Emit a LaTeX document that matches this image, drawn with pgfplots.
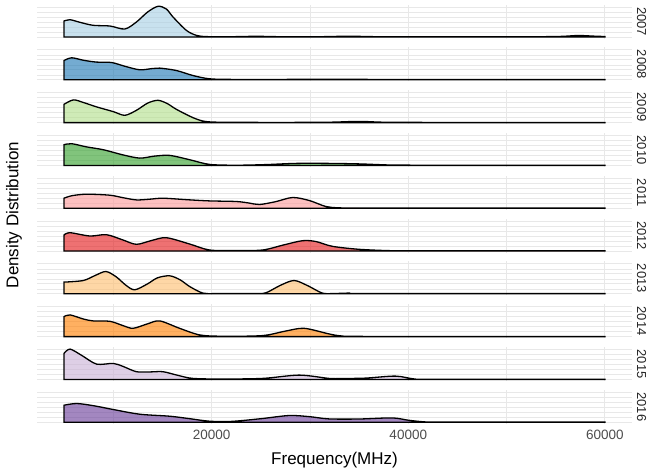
\documentclass[border=0pt]{standalone}
\usepackage{pgfplots}
\pgfplotsset{compat=1.18}
\usepackage{fontspec}
\setmainfont{Liberation Sans}
\definecolor{gridc}{HTML}{E8E8E8}
\definecolor{c1}{HTML}{A6CEE3}
\definecolor{c2}{HTML}{1F78B4}
\definecolor{c3}{HTML}{B2DF8A}
\definecolor{c4}{HTML}{33A02C}
\definecolor{c5}{HTML}{FB9A99}
\definecolor{c6}{HTML}{E31A1C}
\definecolor{c7}{HTML}{FDBF6F}
\definecolor{c8}{HTML}{FF7F00}
\definecolor{c9}{HTML}{CAB2D6}
\definecolor{c10}{HTML}{6A3D9A}
\definecolor{tickc}{HTML}{4D4D4D}
\pgfplotsset{
  ridge/.style={
    scale only axis, width=595pt, height=34pt,
    xmin=2250, xmax=62750, ymin=-1.6, ymax=32.4,
    axis line style={draw=none}, tick style={draw=none},
    xtick={20000,40000,60000}, minor xtick={10000,30000,50000},
    ytick={0,10,20,30}, minor ytick={5,15,25},
    scaled x ticks=false, scaled y ticks=false,
    grid=both,
    major grid style={color=gridc, line width=1pt},
    minor grid style={color=gridc, line width=0.6pt},
    yticklabels={}, xticklabels={},
    clip mode=individual,
    anchor=south west,
  },
  rl/.style={draw=black, line width=1.3pt, fill=#1, fill opacity=0.62, smooth, tension=0.5},
}
\newcommand{\strip}[1]{\node[xshift=9.5pt, rotate=-90, font=\fontsize{13pt}{15pt}\selectfont, text=black!85] at (rel axis cs:1,0.5) {#1};}
\begin{document}
\begin{tikzpicture}
\useasboundingbox (0pt,0pt) rectangle (652pt,-472pt);
% 2007
\begin{axis}[ridge, at={(37pt,-38.6pt)}]
\addplot[rl=c1] coordinates {(5000,16) (5600,17.3) (6500,15) (7940,11.7) (9660,11) (11180,8) (12360,15) (13500,25) (14550,30.7) (15400,28) (16080,20) (17430,6.7) (18440,1.7) (19460,0.4) (22000,0.3) (24550,0.7) (27000,0.3) (31000,0.3) (34000,0.8) (37000,0.3) (45000,0.2) (52000,0.2) (55500,0.6) (57300,1.5) (59000,0.8) (60000,0.5)} \closedcycle;
\strip{2007}
\end{axis}
% 2008
\begin{axis}[ridge, at={(37pt,-81.4pt)}]
\addplot[rl=c2] coordinates {(5000,19.3) (5780,22) (7000,19.5) (8310,17.7) (9830,17.3) (11200,13.5) (12700,10) (14000,11.3) (14730,11.7) (16420,9.3) (18100,4.3) (19790,1) (22000,0.4) (25000,0.3) (30000,0.5) (34000,0.5) (38000,0.3) (45000,0.2) (60000,0.2)} \closedcycle;
\strip{2008}
\end{axis}
% 2009
\begin{axis}[ridge, at={(37pt,-124.2pt)}]
\addplot[rl=c3] coordinates {(5000,18.3) (5950,22.7) (7000,20) (8310,15.7) (10000,11) (11180,7.3) (12360,12.3) (13500,19.5) (14550,22.3) (15500,19) (16420,13.3) (18100,5) (19460,1) (22000,0.3) (28000,0.2) (32000,0.4) (35000,1.2) (37500,0.4) (42000,0.2) (60000,0.2)} \closedcycle;
\strip{2009}
\end{axis}
% 2010
\begin{axis}[ridge, at={(37pt,-167pt)}]
\addplot[rl=c4] coordinates {(5000,20.7) (5780,21.7) (7300,18.5) (8980,15.7) (11000,10.5) (12700,7.3) (14200,9.3) (15740,10) (17770,5.7) (19790,1) (22500,0.2) (25500,0.8) (28570,2) (32000,2) (35000,1.5) (37500,0.6) (39000,0.3) (45000,0.2) (60000,0.2)} \closedcycle;
\strip{2010}
\end{axis}
% 2011
\begin{axis}[ridge, at={(37pt,-209.8pt)}]
\addplot[rl=c5] coordinates {(5000,10) (5800,12.5) (7290,14) (9660,13) (11000,10.5) (12360,8.3) (13700,9) (15060,10) (17500,8.5) (19790,7.3) (22500,6.7) (23800,5.2) (24860,3.7) (26500,6.5) (28240,10.7) (29930,7.7) (31620,1.7) (33000,0.4) (36000,0.2) (60000,0.2)} \closedcycle;
\strip{2011}
\end{axis}
% 2012
\begin{axis}[ridge, at={(37pt,-252.6pt)}]
\addplot[rl=c6] coordinates {(5000,16) (5610,18.3) (7630,15) (9320,16.3) (11000,11) (12360,6.7) (13900,10.5) (15400,13.3) (17770,7) (19790,1) (22500,0.5) (25190,1) (27300,6) (29240,10.3) (30600,9.5) (32280,4.7) (35000,1.7) (38340,0.3) (42000,0.2) (60000,0.3)} \closedcycle;
\strip{2012}
\end{axis}
% 2013
\begin{axis}[ridge, at={(37pt,-295.4pt)}]
\addplot[rl=c7] coordinates {(5000,11.7) (6960,13.3) (8200,18.5) (9260,22.3) (10300,17) (11300,8.5) (12190,4) (13500,10) (14500,16) (15740,18) (16800,14) (17770,7.3) (19120,0.7) (20500,0.2) (24500,0.3) (25530,1) (27000,8.5) (28400,13.3) (29800,8) (31270,0.7) (32500,0.3) (34000,0.7) (36000,0.2) (60000,0.2)} \closedcycle;
\strip{2013}
\end{axis}
% 2014
\begin{axis}[ridge, at={(37pt,-338.2pt)}]
\addplot[rl=c8] coordinates {(5000,20) (5610,21.7) (7000,17.5) (7970,15.7) (9660,15.3) (11000,11) (12020,8.3) (13500,12.8) (14730,15.7) (16750,8.3) (18780,1.7) (21000,0.4) (25160,1) (27500,5.5) (29410,8.3) (31940,2.7) (33300,0.6) (36000,0.2) (60000,0.2)} \closedcycle;
\strip{2014}
\end{axis}
% 2015
\begin{axis}[ridge, at={(37pt,-381pt)}]
\addplot[rl=c9] coordinates {(5000,26) (5610,30.3) (6800,24) (8310,15.3) (10000,16) (11000,13) (12360,7.7) (13800,7.5) (15060,7.7) (16600,4) (18100,1) (21000,0.4) (25190,1) (28910,4.3) (31940,1) (33300,0.9) (35660,1.3) (38700,3.3) (40730,0.3) (43000,0.2) (60000,0.2)} \closedcycle;
\strip{2015}
\end{axis}
% 2016
\begin{axis}[ridge, at={(37pt,-423.8pt)},
  xticklabels={20000,40000,60000},
  xticklabel style={font=\fontsize{13.5pt}{15pt}\selectfont, text=tickc, yshift=-3pt}]
\addplot[rl=c10] coordinates {(5000,17) (6280,18.7) (8000,16.5) (10000,12.7) (12700,8) (15740,6) (17800,3.5) (19790,1) (22000,0.8) (25000,3.5) (27900,6.7) (30000,5.5) (31940,3.3) (35000,3.2) (38360,4.3) (40000,2) (41740,0.3) (44000,0.2) (60000,0.2)} \closedcycle;
\strip{2016}
\end{axis}
\node[font=\fontsize{17pt}{20pt}\selectfont] at (334.5pt,-460pt) {Frequency(MHz)};
\node[rotate=90, font=\fontsize{17pt}{20pt}\selectfont] at (14pt,-215pt) {Density Distribution};
\end{tikzpicture}
\end{document}
